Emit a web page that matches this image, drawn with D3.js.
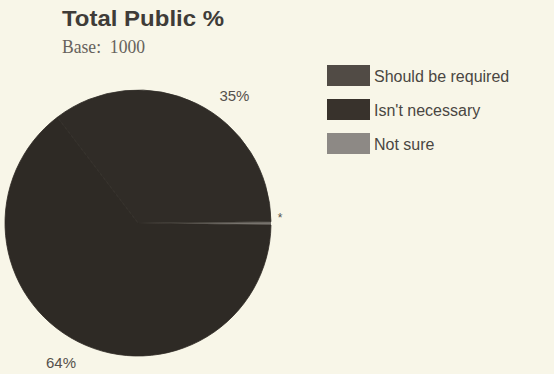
<!DOCTYPE html>
<html>
<head>
<meta charset="utf-8">
<script src="https://cdn.jsdelivr.net/npm/d3@7"></script>
<style>
  body { margin: 0; background: #f8f6e8; }
  svg { display: block; }
</style>
</head>
<body>
<div id="chart"></div>
<script>
// data
var categories = ["Not sure", "Isn't necessary", "Should be required"];
var values = [0.4, 64, 35];
var labels = ["*", "64%", "35%"];
var legendOrder = ["Should be required", "Isn't necessary", "Not sure"];

var sliceColors = { "Should be required": "#302c27", "Isn't necessary": "#2e2a25", "Not sure": "#77736d" };
var swatchColors = { "Should be required": "#514b45", "Isn't necessary": "#38322c", "Not sure": "#8d8985" };
// label nudges (degrees) so text sits where the print had it
var labelTurn = [0, 2, 11];

var width = 554, height = 374;
var svg = d3.select('#chart').append('svg')
  .attr('width', width)
  .attr('height', height);

svg.append('rect').attr('width', width).attr('height', height).attr('fill', '#f8f6e8');

// title
svg.append('text')
  .attr('x', 62).attr('y', 26)
  .attr('font-family', 'Liberation Sans, Arial, sans-serif')
  .attr('font-weight', 'bold')
  .attr('font-size', 22)
  .attr('textLength', 162)
  .attr('lengthAdjust', 'spacingAndGlyphs')
  .attr('fill', '#3f3c38')
  .text('Total Public %');

svg.append('text')
  .attr('x', 62).attr('y', 53)
  .attr('font-family', 'Liberation Serif, Times New Roman, serif')
  .attr('font-size', 19)
  .attr('textLength', 83)
  .attr('lengthAdjust', 'spacingAndGlyphs')
  .attr('fill', '#66625c')
  .text('Base:\u00a0 1000');

// pie
var cx = 138, cy = 223, r = 133;
var start = Math.PI / 2 - 0.01;
var pie = d3.pie().sort(null).startAngle(start).endAngle(start + 2 * Math.PI);
var arcs = pie(values);
var arc = d3.arc().innerRadius(0).outerRadius(r);

var g = svg.append('g').attr('transform', 'translate(' + cx + ',' + cy + ')');

g.selectAll('path')
  .data(arcs)
  .enter().append('path')
  .attr('d', arc)
  .attr('fill', function(d, i) { return sliceColors[categories[i]]; })
  .attr('stroke', function(d, i) { return i === 0 ? 'none' : sliceColors[categories[i]]; })
  .attr('stroke-width', 0.8);

// labels
var labelR = 160;
g.selectAll('text.lbl')
  .data(arcs)
  .enter().append('text')
  .attr('class', 'lbl')
  .attr('transform', function(d, i) {
    if (i === 0) return 'translate(' + (r + 9) + ',-5)';
    var a = (d.startAngle + d.endAngle) / 2 + labelTurn[i] * Math.PI / 180;
    return 'translate(' + (labelR * Math.sin(a)) + ',' + (-labelR * Math.cos(a)) + ')';
  })
  .attr('text-anchor', 'middle')
  .attr('dy', '0.35em')
  .attr('font-family', 'Liberation Sans, Arial, sans-serif')
  .attr('font-size', function(d, i) { return i === 0 ? 12 : 15; })
  .attr('fill', '#55514c')
  .text(function(d, i) { return labels[i]; });

// legend
var legend = svg.append('g').attr('transform', 'translate(327,65)');
var item = legend.selectAll('g')
  .data(legendOrder)
  .enter().append('g')
  .attr('transform', function(d, i) { return 'translate(0,' + (i * 34) + ')'; });

item.append('rect')
  .attr('width', 43).attr('height', 21)
  .attr('fill', function(d) { return swatchColors[d]; });

item.append('text')
  .attr('x', 47).attr('y', 17)
  .attr('font-family', 'Liberation Sans, Arial, sans-serif')
  .attr('font-size', 16)
  .attr('fill', '#4a4642')
  .text(function(d) { return d; });
</script>
</body>
</html>
